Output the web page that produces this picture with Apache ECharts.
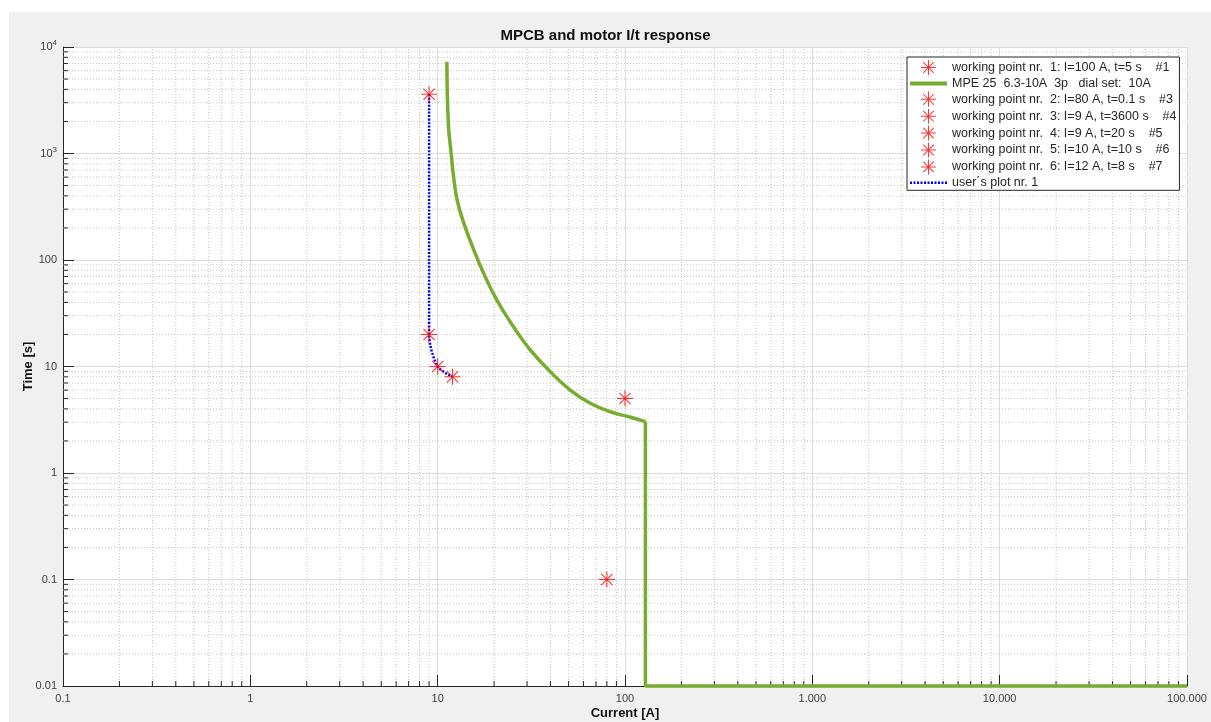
<!DOCTYPE html>
<html>
<head>
<meta charset="utf-8">
<script src="https://cdn.jsdelivr.net/npm/echarts@6/dist/echarts.min.js"></script>
<style>
  html, body { margin: 0; padding: 0; background: #fff; }
  #chart { width: 1211px; height: 722px; }
</style>
</head>
<body>
<div id="chart"></div>
<script>
// working points (current in A, time in s)
var wpNames = [
  'working point nr.  1: I=100 A, t=5 s    #1',
  'working point nr.  2: I=80 A, t=0.1 s    #3',
  'working point nr.  3: I=9 A, t=3600 s    #4',
  'working point nr.  4: I=9 A, t=20 s    #5',
  'working point nr.  5: I=10 A, t=10 s    #6',
  'working point nr.  6: I=12 A, t=8 s    #7'
];
var wpCurrent = [100, 80, 9, 9, 10, 12];
var wpTime = [5, 0.1, 3600, 20, 10, 8];

// MPE 25 trip curve
var mpeName = 'MPE 25  6.3-10A  3p   dial set:  10A';
var mpeCurrent = [11.2, 11.4, 11.8, 12.1, 12.7, 13.8, 15.6, 17.6, 20.7, 25.4, 31.2, 39.9, 51, 65.3, 83.5, 107, 128.5];
var mpeTime = [7280, 1920, 1004, 652, 366, 221, 124, 75, 42, 23.6, 14.3, 8.93, 6.01, 4.51, 3.76, 3.34, 3.04];
// instantaneous part: drop at 128.5 A, then flat to the end of the axis
var mpeDropCurrent = [128.5, 128.5, 100000];
var mpeDropTime = [3.04, 0.01, 0.01];

// user's plot (through working points 3..6)
var userName = 'user\u00b4s plot nr. 1';
var userCurrent = [9, 9, 10, 12];
var userTime = [3600, 20, 10, 8];

// axes
var xMin = 0.1, xMax = 100000;
var yMin = 0.01, yMax = 10000;
var xDecades = [0.1, 1, 10, 100, 1000, 10000];
var yDecades = [0.01, 0.1, 1, 10, 100, 1000];
var minorMults = [2, 3, 4, 5, 6, 7, 8, 9];
var xTickLabels = { '-1': '0.1', '0': '1', '1': '10', '2': '100', '3': '1.000', '4': '10.000', '5': '100.000' };
var yTickLabels = { '-2': '0.01', '-1': '0.1', '0': '1', '1': '10', '2': '100', '3': '{b|10}{s|3}', '4': '{b|10}{s|4}' };

var FONT = 'Arial, "Liberation Sans", Helvetica, sans-serif';
var AXIS_COLOR = '#262626';
// asterisk marker made of 4 thin filled bars (no stroke, so the legend rows don't grow)
var STAR = 'path://M-0.5,-7.5L0.5,-7.5L0.5,7.5L-0.5,7.5Z' +
  'M-7.5,-0.5L7.5,-0.5L7.5,0.5L-7.5,0.5Z' +
  'M-4.95,-5.65L5.65,4.95L4.95,5.65L-5.65,-4.95Z' +
  'M5.65,-4.95L-4.95,5.65L-5.65,4.95L4.95,-5.65Z';

var xMinor = [], yMinor = [];
xDecades.forEach(function (d) { minorMults.forEach(function (m) { xMinor.push([+(m * d).toPrecision(3), yMin]); }); });
yDecades.forEach(function (d) { minorMults.forEach(function (m) { yMinor.push([xMin, +(m * d).toPrecision(3)]); }); });

function zip(a, b) {
  return a.map(function (v, i) { return [v, b[i]]; });
}

// dotted minor grid lines + short inside ticks
function minorRender(isX) {
  return function (params, api) {
    var v = api.value(isX ? 0 : 1);
    var p0, p1;
    if (isX) {
      p0 = api.coord([v, yMin]);
      p1 = api.coord([v, yMax]);
    } else {
      p0 = api.coord([xMin, v]);
      p1 = api.coord([xMax, v]);
    }
    return {
      type: 'group',
      children: [{
        type: 'line',
        shape: { x1: p0[0], y1: p0[1], x2: p1[0], y2: p1[1] },
        style: { stroke: '#c4c4c4', lineWidth: 1, lineDash: [1, 2] }
      }, {
        type: 'line',
        shape: isX
          ? { x1: p0[0], y1: p0[1], x2: p0[0], y2: p0[1] - 5 }
          : { x1: p0[0], y1: p0[1], x2: p0[0] + 5, y2: p0[1] },
        style: { stroke: AXIS_COLOR, lineWidth: 1 }
      }]
    };
  };
}

var chart = echarts.init(document.getElementById('chart'));

var series = [{
  type: 'custom',
  name: 'xminor',
  data: xMinor,
  renderItem: minorRender(true),
  clip: false,
  silent: true,
  z: 1
}, {
  type: 'custom',
  name: 'yminor',
  data: yMinor,
  renderItem: minorRender(false),
  clip: false,
  silent: true,
  z: 1
}, {
  type: 'line',
  name: mpeName,
  data: zip(mpeCurrent, mpeTime),
  showSymbol: false,
  symbol: 'none',
  smooth: 0.45,
  lineStyle: { color: '#77ac30', width: 3.5 },
  itemStyle: { color: '#77ac30' },
  z: 3
}, {
  type: 'line',
  name: mpeName,
  data: zip(mpeDropCurrent, mpeDropTime),
  showSymbol: false,
  symbol: 'none',
  clip: false,
  lineStyle: { color: '#77ac30', width: 3.5 },
  itemStyle: { color: '#77ac30' },
  z: 3
}, {
  type: 'line',
  name: userName,
  data: zip(userCurrent, userTime),
  showSymbol: false,
  symbol: 'none',
  smooth: 0.3,
  lineStyle: { color: '#0000ff', width: 2.5, type: [2, 1.5] },
  itemStyle: { color: '#0000ff' },
  z: 4
}];

wpNames.forEach(function (n, i) {
  series.push({
    type: 'scatter',
    name: n,
    data: [[wpCurrent[i], wpTime[i]]],
    symbol: STAR,
    symbolSize: 16,
    itemStyle: { color: '#ff0000', borderWidth: 0 },
    z: 5
  });
});

function starItem(n) {
  return { name: n, icon: STAR, itemStyle: { color: '#ff0000', borderWidth: 0 } };
}

var option = {
  backgroundColor: '#fff',
  animation: false,
  graphic: [{
    type: 'rect',
    z: -100,
    silent: true,
    shape: { x: 9, y: 12, width: 1202, height: 710 },
    style: { fill: '#f0f0f0' }
  }],
  title: {
    text: 'MPCB and motor I/t response',
    left: 'center',
    top: 23,
    textStyle: { fontFamily: FONT, fontSize: 15, fontWeight: 'bold', color: '#111' }
  },
  legend: {
    left: 907,
    top: 57,
    orient: 'vertical',
    backgroundColor: '#fff',
    borderColor: AXIS_COLOR,
    borderWidth: 1,
    borderRadius: 0,
    padding: [3, 3, 1, 1],
    itemWidth: 37,
    itemHeight: 15,
    itemGap: 1.9,
    itemTextGap: 2,
    selectedMode: false,
    textStyle: { fontFamily: FONT, fontSize: 12.5, color: '#262626' },
    data: [
      starItem(wpNames[0]),
      { name: mpeName, itemStyle: { opacity: 0 }, lineStyle: { width: 4, color: '#77ac30' } },
      starItem(wpNames[1]),
      starItem(wpNames[2]),
      starItem(wpNames[3]),
      starItem(wpNames[4]),
      starItem(wpNames[5]),
      { name: userName, itemStyle: { opacity: 0 }, lineStyle: { width: 2.5, color: '#0000ff', type: [2, 1.5] } }
    ]
  },
  grid: {
    left: 63,
    right: 24,
    top: 47,
    bottom: 36,
    outerBoundsMode: 'none',
    show: true,
    backgroundColor: '#fff',
    borderWidth: 0
  },
  xAxis: {
    type: 'log',
    logBase: 10,
    min: xMin,
    max: xMax,
    splitNumber: 6,
    name: 'Current [A]',
    nameLocation: 'middle',
    nameGap: 21,
    nameMoveOverlap: false,
    nameTextStyle: { fontFamily: FONT, fontSize: 13, fontWeight: 'bold', color: '#111' },
    axisLine: { lineStyle: { color: AXIS_COLOR, width: 1 } },
    axisTick: { inside: true, length: 11, lineStyle: { color: AXIS_COLOR } },
    axisLabel: {
      margin: 7,
      fontFamily: FONT,
      fontSize: 11,
      color: '#404040',
      formatter: function (v) {
        var k = Math.round(Math.log10(v));
        return xTickLabels[k] || '';
      }
    },
    splitLine: { show: true, lineStyle: { color: '#dcdcdc', width: 1 } }
  },
  yAxis: {
    type: 'log',
    logBase: 10,
    min: yMin,
    max: yMax,
    splitNumber: 6,
    name: 'Time [s]',
    nameLocation: 'middle',
    nameGap: 28,
    nameMoveOverlap: false,
    nameTextStyle: { fontFamily: FONT, fontSize: 13, fontWeight: 'bold', color: '#111' },
    axisLine: { lineStyle: { color: AXIS_COLOR, width: 1 } },
    axisTick: { inside: true, length: 11, lineStyle: { color: AXIS_COLOR } },
    axisLabel: {
      margin: 6,
      fontFamily: FONT,
      fontSize: 11,
      color: '#404040',
      formatter: function (v) {
        var k = Math.round(Math.log10(v));
        return yTickLabels[k] || '';
      },
      rich: {
        b: { fontFamily: FONT, fontSize: 11, color: '#404040' },
        s: { fontFamily: FONT, fontSize: 8, color: '#404040', verticalAlign: 'bottom', padding: [0, 0, 8, 0] }
      }
    },
    splitLine: { show: true, lineStyle: { color: '#dcdcdc', width: 1 } }
  },
  series: series
};

chart.setOption(option);
</script>
</body>
</html>
